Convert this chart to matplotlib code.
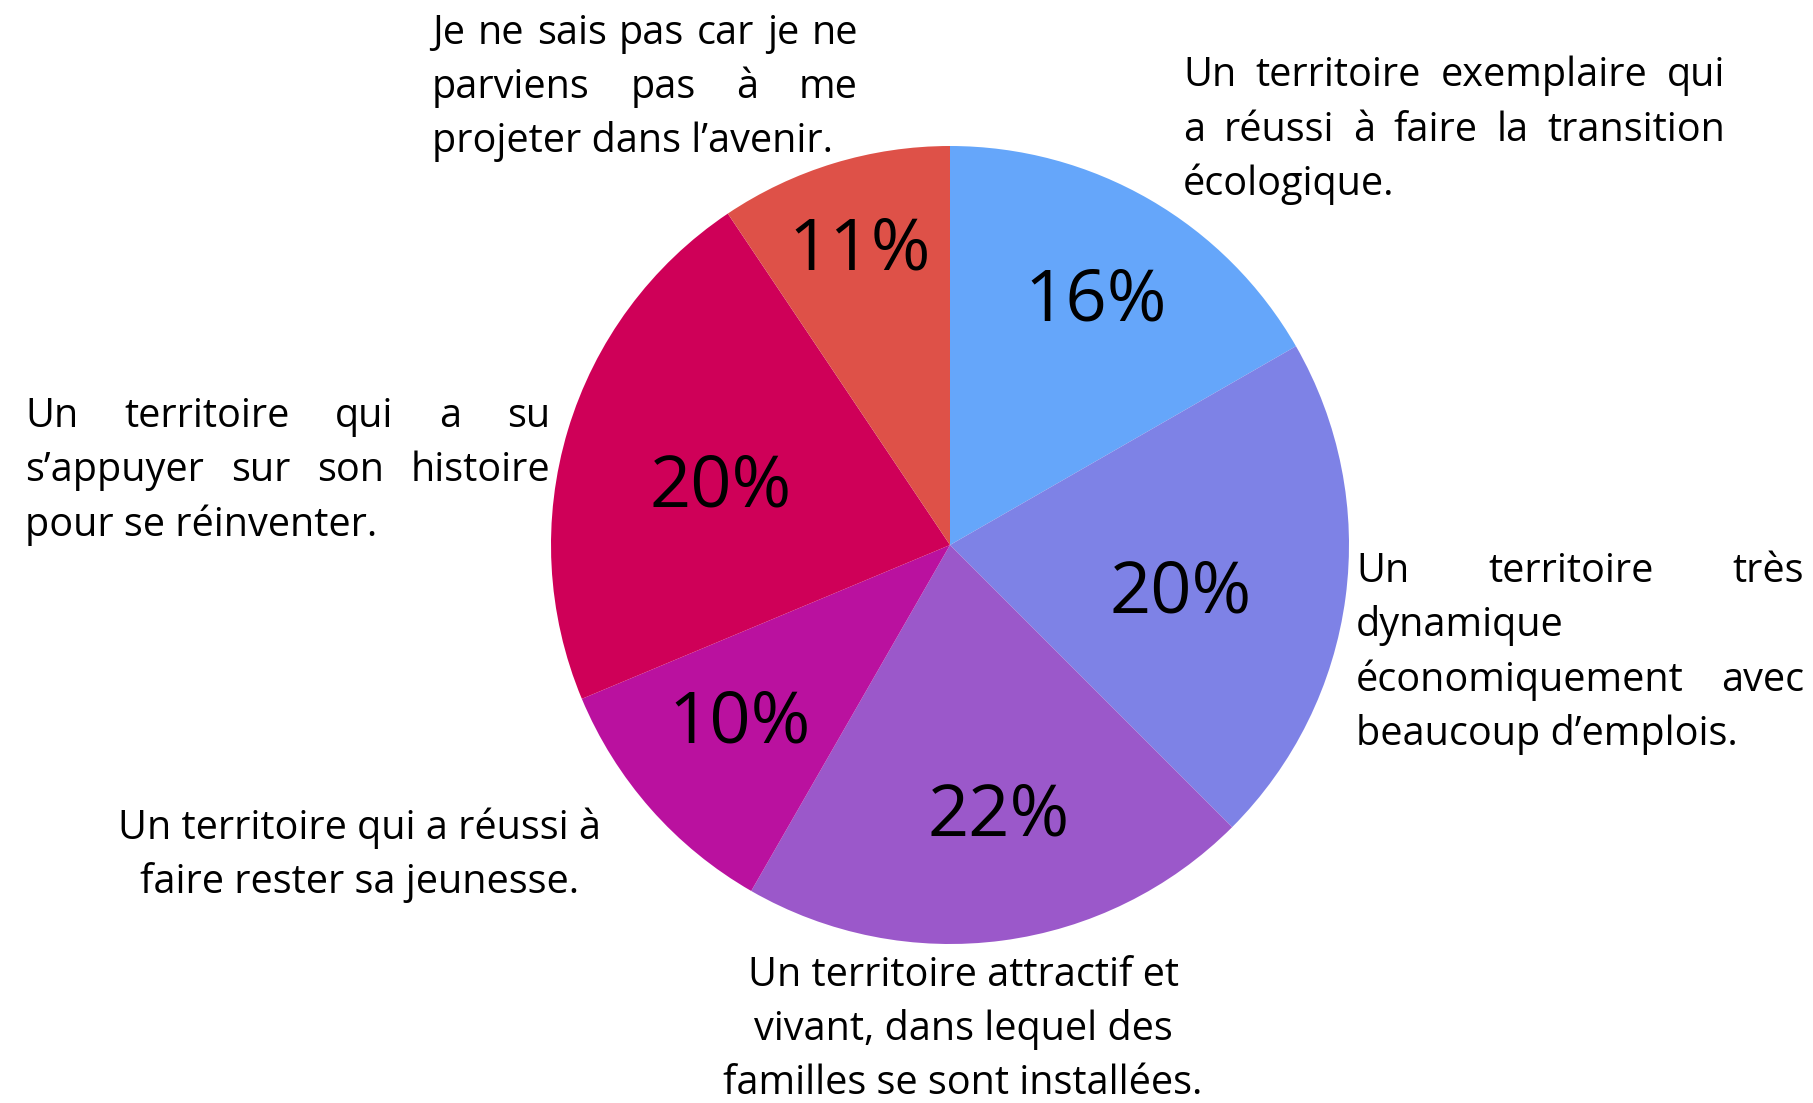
import matplotlib
matplotlib.use("Agg")
import matplotlib.pyplot as plt
import numpy as np

W, H = 1813, 1103
FONT = "Open Sans"

shares = [16.7, 20.8, 20.8, 10.4, 21.9, 9.4]
# percentages printed on the slices
pct_labels = ["16%", "20%", "22%", "10%", "20%", "11%"]
colors = ["#65A6FA", "#7E82E6", "#9B58CA", "#BA119F", "#CF0058", "#DE5148"]

# category labels, line by line as wrapped in the reference
label_lines = [
    ["Un territoire exemplaire qui", "a réussi à faire la transition", "écologique."],
    ["Un territoire très", "dynamique", "économiquement avec", "beaucoup d’emplois."],
    ["Un territoire attractif et", "vivant, dans lequel des", "familles se sont installées."],
    ["Un territoire qui a réussi à", "faire rester sa jeunesse."],
    ["Un territoire qui a su", "s’appuyer sur son histoire", "pour se réinventer."],
    ["Je ne sais pas car je ne", "parviens pas à me", "projeter dans l’avenir."],
]

# layout (pixels, y from top)
CX, CY, R = 950, 545, 399
pct_dist = [0.72, 0.588, 0.683, 0.686, 0.594, 0.781]
pct_turn = [-0.4, -3.5, 2.7, -1.7, 1.7, -0.1]   # degrees off the slice middle
blocks = [
    # mode, x0, x1, first line centre y, line step
    ("justify", 1183, 1725, 73, 54.5),
    ("justify", 1356, 1804, 569, 54.3),
    ("center", 963, 963, 973, 54.0),
    ("center", 360, 360, 826, 54.3),
    ("justify", 25, 550, 414, 54.3),
    ("justify", 432, 858, 31, 54.0),
]
FS_LABEL = 28.5
FS_PCT = 52

fig = plt.figure(figsize=(W / 100, H / 100), dpi=100)
ax = fig.add_axes([0, 0, 1, 1])
wedges, _ = ax.pie(shares, colors=colors, startangle=90, counterclock=False,
                   center=(CX, H - CY), radius=R, wedgeprops=dict(linewidth=0))
ax.set_xlim(0, W)
ax.set_ylim(0, H)
ax.set_aspect("equal")
ax.axis("off")

for w, lab, d, turn in zip(wedges, pct_labels, pct_dist, pct_turn):
    ang = np.deg2rad((w.theta1 + w.theta2) / 2 + turn)
    ax.text(CX + d * R * np.cos(ang), H - CY + d * R * np.sin(ang) - 4, lab,
            family=FONT, fontsize=FS_PCT, ha="center", va="center", color="black")

renderer = fig.canvas.get_renderer()
em = FS_LABEL * 100 / 72
base_off = 0.27 * em + 2.5

for lines, (mode, x0, x1, y0, step) in zip(label_lines, blocks):
    for i, line in enumerate(lines):
        y = H - (y0 + i * step + base_off)
        words = line.split()
        last = i == len(lines) - 1
        if mode == "center":
            ax.text(x0, y, line, family=FONT, fontsize=FS_LABEL, ha="center", va="baseline")
        elif last or len(words) == 1:
            ax.text(x0, y, line, family=FONT, fontsize=FS_LABEL, ha="left", va="baseline")
        else:
            texts = [ax.text(0, y, wd, family=FONT, fontsize=FS_LABEL, ha="left", va="baseline")
                     for wd in words]
            widths = [t.get_window_extent(renderer).width for t in texts]
            gap = (x1 - x0 - sum(widths)) / (len(words) - 1)
            xpos = x0
            for t, wdt in zip(texts, widths):
                t.set_x(xpos)
                xpos += wdt + gap

fig.savefig("out.png", dpi=100)
